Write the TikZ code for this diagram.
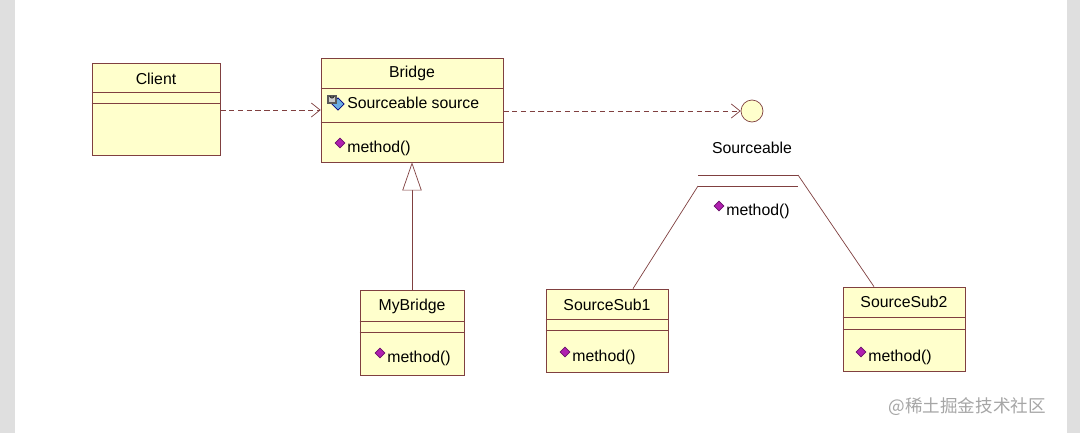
\documentclass[tikz,border=0pt]{standalone}
\usepackage{fontspec}
\setmainfont{Liberation Sans}
\newfontfamily\cjk{Noto Sans CJK SC}
\usetikzlibrary{positioning, arrows.meta, calc}

\definecolor{umlfill}{HTML}{FFFFCC}
\definecolor{umlline}{HTML}{804040}
\definecolor{opfill}{HTML}{B020B0}

\begin{document}
\begin{tikzpicture}[
        x=0.02cm, y=-0.02cm,
        font=\fontsize{9}{11}\selectfont,
        umlclass/.style={draw=umlline, fill=umlfill, inner sep=0pt},
        part/.style={draw=umlline},
        dep/.style={draw=umlline, densely dashed, -{Straight Barb[length=5pt, width=8pt]}},
        gen/.style={draw=umlline, -{Triangle[open, length=16pt, width=11pt, fill=white]}},
        real/.style={draw=umlline},
        op/.style={fill=opfill, draw=opfill!60!black, rotate=45, minimum size=4pt, inner sep=0pt},
    ]
    \useasboundingbox (0,0) rectangle (1080,433);
    \fill[white] (0,0) rectangle (1080,433);
    \fill[gray!25] (0,0) rectangle (15,433);
    \fill[gray!25] (1067,0) rectangle (1080,433);

    % class boxes
    \node[umlclass, minimum width=2.56cm, minimum height=1.84cm] (Client) at (156,109) {};
    \node[umlclass, minimum width=3.64cm, minimum height=2.08cm] (Bridge) at (412,110) {};
    \node[umlclass, minimum width=2.08cm, minimum height=1.70cm] (MyBridge) at (412,332.5) {};
    \node[umlclass, minimum width=2.44cm, minimum height=1.66cm] (Sub1) at (607,330.5) {};
    \node[umlclass, minimum width=2.44cm, minimum height=1.68cm] (Sub2) at (904,329) {};

    % compartments
    \draw[part] ($(Client.north west)+(0,30)$) -- ($(Client.north east)+(0,30)$);
    \draw[part] ($(Client.north west)+(0,41)$) -- ($(Client.north east)+(0,41)$);
    \draw[part] ($(Bridge.north west)+(0,31)$) -- ($(Bridge.north east)+(0,31)$);
    \draw[part] ($(Bridge.north west)+(0,65)$) -- ($(Bridge.north east)+(0,65)$);
    \foreach \name/\a/\b in {MyBridge/32/43, Sub1/31/42, Sub2/31/43} {
        \draw[part] ($(\name.north west)+(0,\a)$) -- ($(\name.north east)+(0,\a)$);
        \draw[part] ($(\name.north west)+(0,\b)$) -- ($(\name.north east)+(0,\b)$);
    }

    % class names
    \node at ($(Client.north)+(0,16)$) {Client};
    \node at ($(Bridge.north)+(0,16)$) {Bridge};
    \node at ($(MyBridge.north)+(0,17)$) {MyBridge};
    \node at ($(Sub1.north)+(0,16)$) {SourceSub1};
    \node at ($(Sub2.north)+(0,15)$) {SourceSub2};

    % attribute of Bridge
    \node[fill=cyan!70!blue!60, draw=blue!50!black, rotate=45, minimum size=5pt, inner sep=0pt] (attricon) at (338,104) {};
    \draw[gray!70!black, fill=gray!40, line width=0.6pt] (328,96) rectangle (336,103);
    \draw[gray!40!black, line width=0.6pt] (330,96) arc[start angle=180, end angle=0, radius=2];
    \node[anchor=west, inner sep=0pt] (attr) at (347,103) {Sourceable source};

    % operations
    \foreach \name/\x/\y in {bridge/340/143, mybridge/380/353, sub1/565/352, sub2/861/352, iface/719/206} {
        \node[op] (op-\name) at (\x,\y) {};
        \node[anchor=west, inner sep=0pt] (m-\name) at (\x+7,\y+5) {method()};
    }

    % interface Sourceable
    \node[circle, draw=umlline, fill=umlfill, minimum size=0.44cm, inner sep=0pt] (Iface) at (752,111) {};
    \node (ifname) at (752,148) {Sourceable};
    \coordinate (l1a) at (698,175); \coordinate (l1b) at (798,175);
    \coordinate (l2a) at (698,186); \coordinate (l2b) at (798,186);
    \draw[part] (l1a) -- (l1b);
    \draw[part] (l2a) -- (l2b);

    % connectors
    \draw[dep] (Client.east |- 0,110) -- (Bridge.west |- 0,110);
    \draw[dep] (Bridge.east |- 0,111) -- (Iface.west);
    \draw[gen] (MyBridge.north) -- (Bridge.south);
    \draw[real] (Sub1.north) ++(26,0) coordinate (s1top) -- (l2a);
    \draw[real] (Sub2.north) ++(-30,0) coordinate (s2top) -- (l1b);

    % watermark
    \node[anchor=east, text=gray!70, font=\cjk\fontsize{10}{12}\selectfont] (mark) at (1052,407) {@稀土掘金技术社区};
\end{tikzpicture}
\end{document}
